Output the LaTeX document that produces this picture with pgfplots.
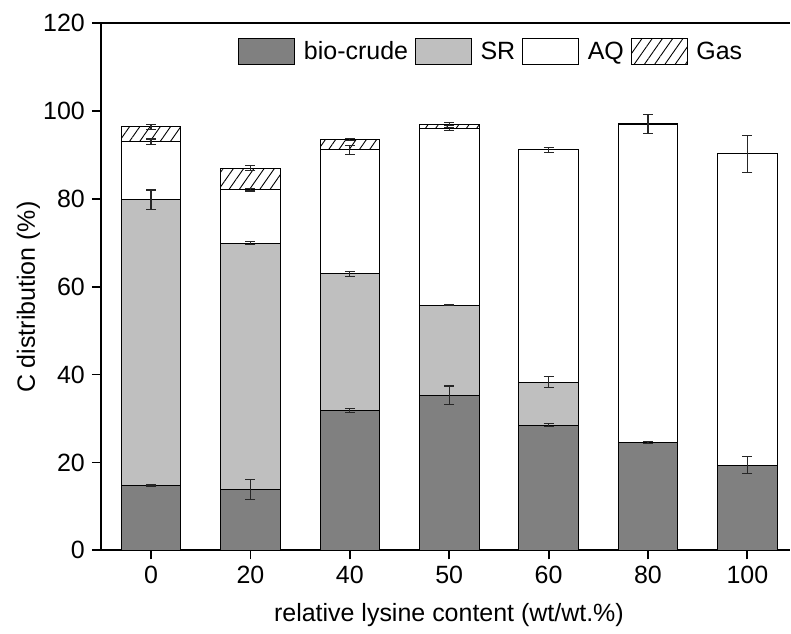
\documentclass[border=0pt]{standalone}
\usepackage{fontspec}
\setmainfont{Liberation Sans}
\usepackage{pgfplots}
\usepackage{pgfplotstable}
\pgfplotsset{compat=1.18}
\usetikzlibrary{patterns.meta}
\newcommand\ff{\fontsize{12.5pt}{15pt}\selectfont}

\pgfplotstableread{
x bio sr aq gas
0 14.8 65.0 13.2 3.4
1 13.9 56.0 12.1 5.0
2 31.8 31.1 28.2 2.4
3 35.3 20.5 40.1 1.1
4 28.5 9.8 52.8 0.15
5 24.6 0 72.4 0.1
6 19.4 0 70.8 0
}\bars

\pgfplotstableread{
x y e
0 14.8 0.15
0 79.8 2.2
0 93.0 0.6
0 96.4 0.55
1 13.9 2.3
1 69.9 0.3
1 82.0 0.25
1 87.0 0.5
2 31.8 0.45
2 62.9 0.5
2 91.1 1.1
2 93.5 0.3
3 35.3 2.1
3 55.8 0.1
3 95.9 0.35
3 97.0 0.3
4 28.5 0.4
4 38.3 1.3
4 91.1 0.5
5 24.6 0.2
5 97.0 2.1
6 19.4 1.9
6 90.2 4.2
}\errs

\pgfplotsset{common/.style={scale only axis, width=345pt, height=264pt,
  xmin=-0.505, xmax=6.43, ymin=0, ymax=120}}

\begin{document}
\begin{tikzpicture}
\begin{axis}[common,
  ybar stacked, bar width=0.6,
  axis x line=box, axis y line=left,
  axis line style={-, line width=0.9pt},
  tick align=outside, xtick pos=left, ytick pos=left,
  major tick length=4.5pt,
  tick style={black, line width=0.9pt},
  xtick={0,...,6}, xticklabels={0,20,40,50,60,80,100},
  ytick={0,20,...,120}, minor tick num=0,
  tick label style={font=\ff},
  /pgf/number format/assume math mode=true,
  xlabel={relative lysine content (wt/wt.\%)},
  ylabel={C distribution (\%)},
  every axis x label/.style={at={(rel axis cs:0.505,-0.123)}, anchor=center, font=\ff},
  every axis y label/.style={at={(rel axis cs:-0.105,0.48)}, rotate=90, anchor=center, font=\ff},
  legend style={at={(rel axis cs:0.199,0.945)}, anchor=west, draw=none, fill=none,
    font=\ff, inner sep=0pt,
    /tikz/every odd column/.append style={column sep=2.3pt},
    /tikz/every even column/.append style={column sep=1.5pt}},
  legend columns=4,
  legend image code/.code={\draw[#1] (0pt,-6.5pt) rectangle (28pt,6.5pt);},
]
\addplot[fill=black!50, draw=black, line width=0.5pt] table[x=x,y=bio]{\bars};
\addplot[fill=black!25, draw=black, line width=0.5pt] table[x=x,y=sr]{\bars};
\addplot[fill=white, draw=black, line width=0.5pt] table[x=x,y=aq]{\bars};
\addplot[fill=white, draw=black, line width=0.5pt,
  pattern={Lines[angle=55,distance=4.2pt,line width=0.45pt]}, pattern color=black] table[x=x,y=gas]{\bars};
\legend{bio-crude, SR, AQ, Gas}
\end{axis}
\begin{axis}[common, hide axis, clip=false]
\addplot[draw=none, mark=none,
  error bars/.cd, y dir=both, y explicit,
  error bar style={draw=black!85, line width=0.6pt},
  error mark=-,
  error mark options={draw=black!85, line width=0.6pt, mark size=2.5pt, rotate=90}]
  table[x=x, y=y, y error=e]{\errs};
\path ([xshift=-50.5pt,yshift=-37pt]rel axis cs:0,0) rectangle ([yshift=11.5pt]rel axis cs:1,1);
\end{axis}
\end{tikzpicture}
\end{document}
